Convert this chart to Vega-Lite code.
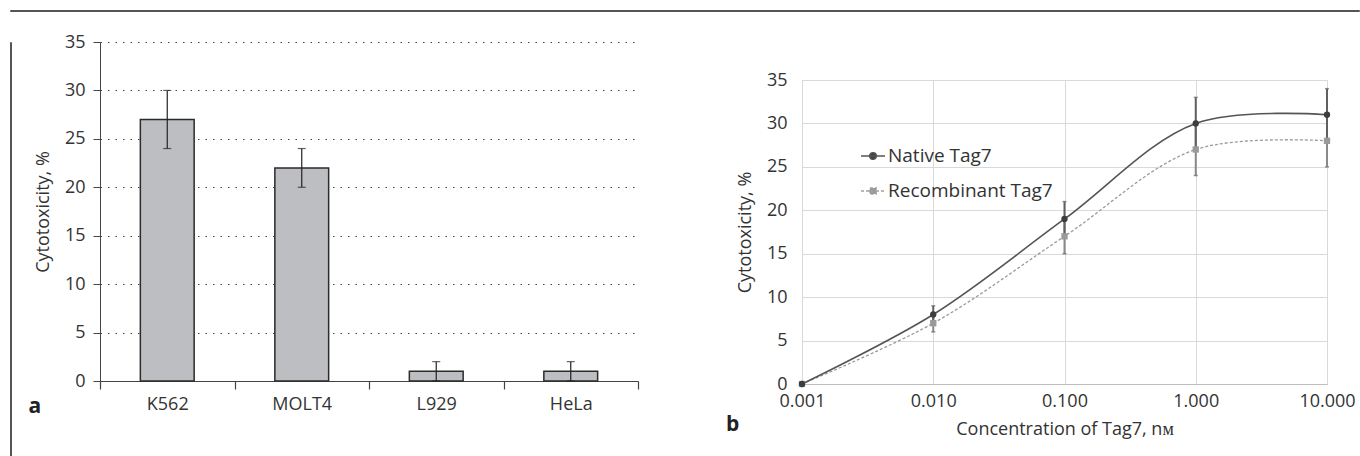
{
  "$schema": "https://vega.github.io/schema/vega-lite/v6.json",
  "background": "white",
  "padding": {"left": 9, "top": 9, "right": 0, "bottom": 0},
  "config": {
    "font": "Open Sans",
    "axis": {"labelColor": "#333", "titleColor": "#333", "titleFontWeight": "normal"}
  },
  "spacing": 0,
  "resolve": {
    "scale": {"color": "independent", "fill": "independent", "stroke": "independent", "shape": "independent", "strokeDash": "independent"},
    "legend": {"color": "independent", "fill": "independent", "stroke": "independent", "shape": "independent", "strokeDash": "independent"}
  },
  "vconcat": [
    {
      "width": 1349, "height": 1,
      "view": {"stroke": "#555555", "strokeWidth": 1},
      "data": {"values": []},
      "mark": {"type": "point"},
      "encoding": {}
    },
    {
      "spacing": 16,
      "resolve": {
        "scale": {"color": "independent", "fill": "independent", "stroke": "independent", "shape": "independent", "strokeDash": "independent"},
        "legend": {"color": "independent", "fill": "independent", "stroke": "independent", "shape": "independent", "strokeDash": "independent"}
      },
      "hconcat": [
        {
          "width": 1, "height": 414,
          "view": {"stroke": "#555555", "strokeWidth": 1},
          "data": {"values": []},
          "mark": {"type": "point"},
          "encoding": {}
        },
        {
          "spacing": 86,
          "resolve": {
            "scale": {"color": "independent", "fill": "independent", "stroke": "independent", "shape": "independent", "strokeDash": "independent"},
            "legend": {"color": "independent", "fill": "independent", "stroke": "independent", "shape": "independent", "strokeDash": "independent"}
          },
          "hconcat": [
            {
              "width": 538, "height": 339,
              "view": {"stroke": null},
              "title": {"text": "·", "color": "#ffffff", "fontSize": 10, "offset": 11, "anchor": "start"},
              "data": {"values": [
                {"cell": "K562", "v": 27, "lo": 24, "hi": 30},
                {"cell": "MOLT4", "v": 22, "lo": 20, "hi": 24},
                {"cell": "L929", "v": 1, "lo": 0, "hi": 2},
                {"cell": "HeLa", "v": 1, "lo": 0, "hi": 2}
              ]},
              "encoding": {
                "x": {"field": "cell", "type": "nominal", "sort": null,
                  "scale": {"paddingInner": 0, "paddingOuter": 0},
                  "axis": {"title": "a", "titleX": -72, "titleY": 31, "titleAlign": "left", "titleBaseline": "alphabetic",
                    "titleFontSize": 21, "titleFontWeight": "bold", "titleColor": "#222",
                    "labelAngle": 0, "labelFontSize": 18, "labelPadding": 6, "ticks": true, "tickBand": "extent", "tickSize": 8,
                    "tickWidth": 1.2, "tickColor": "#444", "domainColor": "#444", "grid": false}}
              },
              "layer": [
                {
                  "mark": {"type": "bar", "fill": "#bdbec1", "stroke": "#2b2b2b", "strokeWidth": 1.5, "width": {"band": 0.4}},
                  "encoding": {
                    "y": {"field": "v", "type": "quantitative", "title": "Cytotoxicity, %", "scale": {"domain": [0, 35], "nice": false},
                      "axis": {"titleFontSize": 18, "titlePadding": 12, "labelFlush": false,
                        "values": [0, 5, 10, 15, 20, 25, 30, 35], "labelFontSize": 18, "tickSize": 7, "labelPadding": 8,
                        "tickColor": "#444", "domainColor": "#444", "grid": true, "gridColor": "#444",
                        "gridDash": [1.5, 6], "gridWidth": 1.2}}
                  }
                },
                {
                  "mark": {"type": "rule", "color": "#222", "strokeWidth": 1.2},
                  "encoding": {"y": {"field": "lo", "type": "quantitative", "title": "Cytotoxicity, %"}, "y2": {"field": "hi"}}
                },
                {
                  "mark": {"type": "tick", "orient": "horizontal", "size": 8, "thickness": 1.2, "color": "#222"},
                  "encoding": {"y": {"field": "hi", "type": "quantitative", "title": "Cytotoxicity, %"}}
                },
                {
                  "mark": {"type": "tick", "orient": "horizontal", "size": 8, "thickness": 1.2, "color": "#222"},
                  "encoding": {"y": {"field": "lo", "type": "quantitative", "title": "Cytotoxicity, %"}}
                }
              ]
            },
            {
              "spacing": 0,
              "resolve": {
                "scale": {"color": "independent", "fill": "independent", "stroke": "independent", "shape": "independent", "strokeDash": "independent"},
                "legend": {"color": "independent", "fill": "independent", "stroke": "independent", "shape": "independent", "strokeDash": "independent"}
              },
              "vconcat": [
                {
                  "width": 525, "height": 28,
                  "view": {"stroke": null},
                  "data": {"values": []},
                  "mark": {"type": "point"},
                  "encoding": {}
                },
                {
                  "width": 525, "height": 304,
                  "view": {"stroke": "#d9d9d9"},
                  "title": {"text": "b", "orient": "bottom", "anchor": "start", "frame": "group", "dx": -76, "offset": -24, "fontSize": 21, "fontWeight": "bold", "color": "#222"},
                  "data": {"values": [
                    {"c": 0.001, "s": "Native Tag7", "v": 0, "lo": null, "hi": null},
                    {"c": 0.01, "s": "Native Tag7", "v": 8, "lo": 7, "hi": 9},
                    {"c": 0.1, "s": "Native Tag7", "v": 19, "lo": 17, "hi": 21},
                    {"c": 1, "s": "Native Tag7", "v": 30, "lo": 27, "hi": 33},
                    {"c": 10, "s": "Native Tag7", "v": 31, "lo": 28, "hi": 34},
                    {"c": 0.001, "s": "Recombinant Tag7", "v": 0, "lo": null, "hi": null},
                    {"c": 0.01, "s": "Recombinant Tag7", "v": 7, "lo": 6, "hi": 8},
                    {"c": 0.1, "s": "Recombinant Tag7", "v": 17, "lo": 15, "hi": 19},
                    {"c": 1, "s": "Recombinant Tag7", "v": 27, "lo": 24, "hi": 30},
                    {"c": 10, "s": "Recombinant Tag7", "v": 28, "lo": 25, "hi": 31}
                  ]},
                  "encoding": {
                    "x": {"field": "c", "type": "quantitative", "title": "Concentration of Tag7, nᴍ",
                      "scale": {"type": "log", "domain": [0.001, 10], "nice": false},
                      "axis": {"values": [0.001, 0.01, 0.1, 1, 10], "format": ".3f", "labelFlush": false,
                        "grid": true, "gridColor": "#d9d9d9", "ticks": false, "domainColor": "#bfbfbf",
                        "labelFontSize": 18, "labelPadding": 8, "titleFontSize": 18, "titlePadding": 10}}
                  },
                  "layer": [
                    {
                      "transform": [{"filter": "datum.s == 'Recombinant Tag7'"}],
                      "mark": {"type": "line", "interpolate": "catmull-rom", "color": "#9a9a9a", "strokeDash": [3, 2], "strokeWidth": 1.3},
                      "encoding": {
                        "y": {"field": "v", "type": "quantitative", "title": "Cytotoxicity, %", "scale": {"domain": [0, 35], "nice": false},
                          "axis": {"values": [0, 5, 10, 15, 20, 25, 30, 35], "titleFontSize": 18, "labelFlush": false,
                            "titlePadding": 12, "domain": false, "ticks": false, "labelPadding": 15, "labelFontSize": 18,
                            "grid": true, "gridColor": "#d9d9d9"}}
                      }
                    },
                    {
                      "transform": [{"filter": "datum.s == 'Native Tag7'"}],
                      "mark": {"type": "line", "interpolate": "catmull-rom", "color": "#555555", "strokeWidth": 1.6},
                      "encoding": {"y": {"field": "v", "type": "quantitative", "title": "Cytotoxicity, %"}}
                    },
                    {
                      "transform": [{"filter": "datum.s == 'Recombinant Tag7'"}],
                      "mark": {"type": "rule", "strokeWidth": 2, "color": "#8a8a8a"},
                      "encoding": {"y": {"field": "lo", "type": "quantitative", "title": "Cytotoxicity, %"}, "y2": {"field": "hi"}}
                    },
                    {
                      "transform": [{"filter": "datum.s == 'Native Tag7'"}],
                      "mark": {"type": "rule", "strokeWidth": 2, "color": "#606060"},
                      "encoding": {"y": {"field": "lo", "type": "quantitative", "title": "Cytotoxicity, %"}, "y2": {"field": "hi"}}
                    },
                    {
                      "mark": {"type": "tick", "orient": "horizontal", "size": 4, "thickness": 1.5, "color": "#666666"},
                      "encoding": {"y": {"field": "hi", "type": "quantitative", "title": "Cytotoxicity, %"}}
                    },
                    {
                      "mark": {"type": "tick", "orient": "horizontal", "size": 4, "thickness": 1.5, "color": "#666666"},
                      "encoding": {"y": {"field": "lo", "type": "quantitative", "title": "Cytotoxicity, %"}}
                    },
                    {
                      "transform": [{"filter": "datum.s == 'Recombinant Tag7'"}],
                      "mark": {"type": "point", "shape": "square", "filled": true, "size": 40, "color": "#9a9a9a", "opacity": 1},
                      "encoding": {"y": {"field": "v", "type": "quantitative", "title": "Cytotoxicity, %"}}
                    },
                    {
                      "transform": [{"filter": "datum.s == 'Native Tag7'"}],
                      "mark": {"type": "point", "shape": "circle", "filled": true, "size": 40, "color": "#3d3d3d", "opacity": 1},
                      "encoding": {"y": {"field": "v", "type": "quantitative", "title": "Cytotoxicity, %"}}
                    },
                    {
                      "mark": {"type": "point", "opacity": 0, "strokeWidth": 1.5},
                      "encoding": {
                        "y": {"field": "v", "type": "quantitative", "title": "Cytotoxicity, %"},
                        "fill": {"field": "s", "type": "nominal", "title": null,
                          "scale": {"domain": ["Native Tag7", "Recombinant Tag7"], "range": ["#404040", "#9a9a9a"]},
                          "legend": {"orient": "none", "legendX": 58, "legendY": 63, "padding": 0, "symbolOpacity": 1, "symbolSize": 576, "symbolStrokeWidth": 1.5, "labelFontSize": 19, "labelColor": "#333", "labelOffset": 2, "labelLimit": 0, "rowPadding": 12}},
                        "stroke": {"field": "s", "type": "nominal", "title": null,
                          "scale": {"domain": ["Native Tag7", "Recombinant Tag7"], "range": ["#555555", "#a0a0a0"]},
                          "legend": {"orient": "none", "legendX": 58, "legendY": 63, "padding": 0, "symbolOpacity": 1, "symbolSize": 576, "symbolStrokeWidth": 1.5, "labelFontSize": 19, "labelColor": "#333", "labelOffset": 2, "labelLimit": 0, "rowPadding": 12}},
                        "shape": {"field": "s", "type": "nominal", "title": null,
                          "scale": {"domain": ["Native Tag7", "Recombinant Tag7"],
                            "range": ["M-1,0L1,0M0.28,0A0.28,0.28,0,1,1,-0.28,0A0.28,0.28,0,1,1,0.28,0Z",
                                      "M-1,0L1,0M-0.26,-0.26L0.26,-0.26L0.26,0.26L-0.26,0.26Z"]},
                          "legend": {"orient": "none", "legendX": 58, "legendY": 63, "padding": 0, "symbolOpacity": 1, "symbolSize": 576, "symbolStrokeWidth": 1.5, "labelFontSize": 19, "labelColor": "#333", "labelOffset": 2, "labelLimit": 0, "rowPadding": 12}},
                        "strokeDash": {"field": "s", "type": "nominal", "title": null,
                          "scale": {"domain": ["Native Tag7", "Recombinant Tag7"], "range": [[1, 0], [3, 2]]},
                          "legend": {"orient": "none", "legendX": 58, "legendY": 63, "padding": 0, "symbolOpacity": 1, "symbolSize": 576, "symbolStrokeWidth": 1.5, "labelFontSize": 19, "labelColor": "#333", "labelOffset": 2, "labelLimit": 0, "rowPadding": 12}}
                      }
                    }
                  ]
                }
              ]
            }
          ]
        }
      ]
    }
  ]
}
